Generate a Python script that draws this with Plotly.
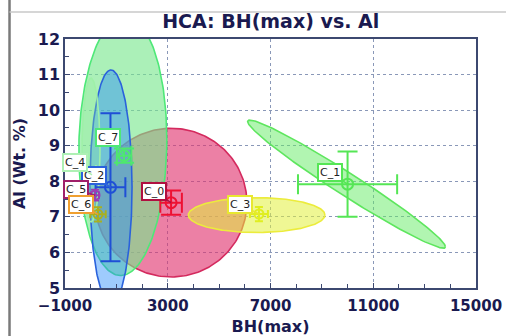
import numpy as np
import plotly.graph_objects as go

# Cluster summary: centroid, spread (error bars) per cluster
clusters = ["C_0", "C_1", "C_2", "C_3", "C_4", "C_5", "C_6", "C_7"]
bh_mean = [3130, 10000, 770, 6550, 50, 170, 285, 1300]
al_mean = [7.40, 7.92, 7.83, 7.08, 8.18, 7.61, 7.07, 8.72]
bh_err = [420, 1930, 580, 350, 150, 150, 300, 280]
al_err = [0.34, 0.92, 2.08, 0.20, 0.12, 0.15, 0.20, 0.20]

# Confidence ellipses: centre, half extent in x / y, correlation
ell_names = ["C_0", "C_1", "C_3", "C_7", "C_2", "C_4"]
ell_cx = [3130, 9960, 6460, 1250, 790, 12]
ell_cy = [7.40, 7.92, 7.05, 9.00, 7.84, 8.88]
ell_sx = [2950, 3850, 2660, 1713, 820, 350]
ell_sy = [2.09, 1.80, 0.49, 3.65, 3.29, 2.02]
ell_rho = [0.0, -0.978, 0.0, 0.05, 0.0, 0.0]

line_col = {"C_0": "#d42a5e", "C_1": "#5ee65e", "C_2": "#2a62dc", "C_3": "#ecec3c",
            "C_4": "#9ff0a8", "C_5": "#9a3cb4", "C_6": "#a8b020", "C_7": "#4ee878"}
fill_col = {"C_0": "rgba(225,50,110,0.62)", "C_1": "rgba(100,235,100,0.5)",
            "C_2": "rgba(40,140,250,0.45)", "C_3": "rgba(225,240,60,0.55)",
            "C_4": "rgba(150,240,160,0.3)", "C_7": "rgba(120,230,140,0.62)"}
mark_col = {"C_0": "#ee1133", "C_1": "#55e655", "C_2": "#1f4fd6", "C_3": "#e0ee20",
            "C_4": "#9ff0a8", "C_5": "#9a3cb4", "C_6": "#a8b020", "C_7": "#4ee86e"}
label_border = {"C_0": "#b01040", "C_1": "#55e655", "C_2": "#2a62dc", "C_3": "#e8e830",
                "C_4": "#aef0b4", "C_5": "#a0206a", "C_6": "#f0a030", "C_7": "#4ee878"}
# label offsets (px) from each centroid
label_dx = {"C_0": -17, "C_1": -18, "C_2": -16, "C_3": -19, "C_4": -17, "C_5": -19, "C_6": -17, "C_7": -16}
label_dy = {"C_0": -11, "C_1": -12, "C_2": -12, "C_3": -10, "C_4": -12, "C_5": -6, "C_6": -10, "C_7": -18}

navy = "#1a1a50"
fig = go.Figure()

t = np.linspace(0, 2 * np.pi, 240)
for n, cx, cy, sx, sy, r in zip(ell_names, ell_cx, ell_cy, ell_sx, ell_sy, ell_rho):
    ex = cx + sx * np.cos(t)
    ey = cy + sy * (r * np.cos(t) + np.sqrt(1 - r * r) * np.sin(t))
    fig.add_trace(go.Scatter(x=ex, y=ey, mode="lines", fill="toself",
                             fillcolor=fill_col[n], line=dict(color=line_col[n], width=1.6),
                             hoverinfo="skip", showlegend=False))

for i, n in enumerate(clusters):
    c = mark_col[n]
    small = n in ("C_3", "C_5", "C_6")
    fig.add_trace(go.Scatter(
        x=[bh_mean[i]], y=[al_mean[i]], mode="markers", showlegend=False,
        marker=dict(symbol="circle-open-dot", size=9 if small else 11, color=c,
                    line=dict(width=2, color=c)),
        error_x=dict(type="data", array=[bh_err[i]], color=c, thickness=2,
                     width=4 if small else 10),
        error_y=dict(type="data", array=[al_err[i]], color=c, thickness=2,
                     width=4 if small else 10),
    ))

for n in ["C_2", "C_7", "C_0", "C_3", "C_1", "C_4", "C_5", "C_6"]:
    i = clusters.index(n)
    fig.add_annotation(x=bh_mean[i], y=al_mean[i], text=n, showarrow=True,
                       arrowhead=0, arrowwidth=1.5, arrowcolor=label_border[n],
                       ax=label_dx[n], ay=label_dy[n],
                       font=dict(family="DejaVu Sans", size=11, color="#222222"),
                       bgcolor="white", bordercolor=label_border[n], borderwidth=2,
                       borderpad=1)

axis_common = dict(showline=True, linecolor="#3c4870", linewidth=1.5, mirror=True,
                   ticks="inside", ticklen=5, tickcolor="#3c4870", zeroline=False,
                   showgrid=True, gridcolor="#8a98b8", griddash="dot", gridwidth=1,
                   automargin=False)

fig.update_xaxes(range=[-1000, 15000], tick0=-1000, dtick=4000, tickformat="d",
                 ticklabelstandoff=3,
                 minor=dict(dtick=1000, ticks="inside", ticklen=4, tickcolor="#3c4870", showgrid=False),
                 tickfont=dict(family="DejaVu Sans", size=15, color=navy, weight="bold"),
                 title=dict(text="<b>BH(max)</b>", font=dict(family="DejaVu Sans", size=16, color=navy),
                            standoff=8),
                 **axis_common)
fig.update_yaxes(range=[5, 12], tick0=5, dtick=1,
                 minor=dict(dtick=0.5, ticks="inside", ticklen=4, tickcolor="#3c4870", showgrid=False),
                 tickfont=dict(family="DejaVu Sans", size=16, color=navy, weight="bold"),
                 title=dict(text="<b>Al (Wt. %)</b>", font=dict(family="DejaVu Sans", size=16, color=navy),
                            standoff=8),
                 **axis_common)

# window frame lines around the chart
fig.add_shape(type="line", xref="paper", yref="paper", x0=-0.135, x1=-0.135, y0=-0.25, y1=1.2,
              line=dict(color="#7a7a7a", width=2.5))
fig.add_shape(type="line", xref="paper", yref="paper", x0=-0.135, x1=1.2, y0=1.108, y1=1.108,
              line=dict(color="#c8c8c8", width=1.5))

fig.update_layout(
    width=506, height=336,
    margin=dict(l=65, r=30, t=39, b=48),
    paper_bgcolor="white", plot_bgcolor="white",
    title=dict(text="<b>HCA: BH(max) vs. Al</b>", x=0.535, xanchor="center", y=0.935, yanchor="middle",
               font=dict(family="DejaVu Sans", size=19, color=navy)),
    showlegend=False,
)

fig.write_html("out.html")
